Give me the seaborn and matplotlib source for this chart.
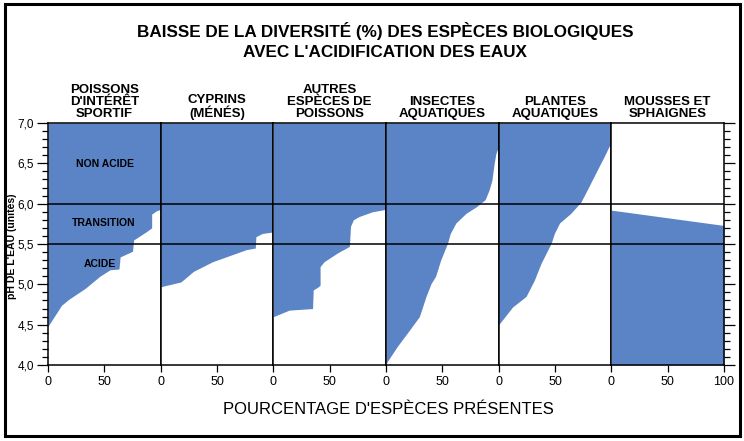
import matplotlib
matplotlib.use("Agg")
import matplotlib.pyplot as plt
import seaborn as sns
import numpy as np
from matplotlib.patches import Rectangle
from matplotlib.ticker import MultipleLocator, FuncFormatter

sns.set_theme(style="ticks")
plt.rcParams['font.family'] = ['Liberation Sans', 'DejaVu Sans']

BLEU = '#5b84c6'

# groupes d'especes (titres des panneaux)
groupes = ["POISSONS\nD'INTÉRÊT\nSPORTIF", "CYPRINS\n(MÉNÉS)",
           "AUTRES\nESPÈCES DE\nPOISSONS", "INSECTES\nAQUATIQUES",
           "PLANTES\nAQUATIQUES", "MOUSSES ET\nSPHAIGNES"]

# pH de l'eau -> % d'especes presentes
ph_sportif = [7.0, 5.93, 5.91, 5.87, 5.70, 5.65, 5.55, 5.41, 5.34, 5.19, 5.18, 5.10, 4.95, 4.81, 4.74, 4.48, 4.0]
pct_sportif = [100, 100, 96, 92, 92, 87, 76, 75, 64, 63, 55, 46, 33, 18, 12, 0, 0]

ph_cyprins = [7.0, 5.65, 5.63, 5.59, 5.45, 5.43, 5.28, 5.16, 5.03, 5.00, 4.97, 4.0]
pct_cyprins = [100, 100, 90, 84.5, 84, 76, 46, 29, 18, 9, 0, 0]

ph_autres = [7.0, 5.93, 5.90, 5.84, 5.80, 5.72, 5.47, 5.39, 5.28, 5.22, 4.99, 4.97, 4.93, 4.70, 4.68, 4.62, 4.60, 4.0]
pct_autres = [100, 100, 88, 76, 71, 68.5, 67.5, 57, 45, 41.5, 41.5, 40, 35.4, 34.8, 14, 3.6, 0, 0]

ph_insectes = [7.0, 6.71, 6.62, 6.50, 6.29, 6.17, 6.05, 5.96, 5.88, 5.76, 5.63, 5.51, 5.30, 5.10, 5.01, 4.85, 4.60, 4.43, 4.23, 4.04, 4.0]
pct_insectes = [100, 100, 97.5, 96, 94, 91.5, 88, 80, 71, 62, 57, 54.6, 48.5, 44, 40, 35.5, 29.6, 20.7, 10, 1, 0]

ph_plantes = [7.0, 6.73, 6.71, 6.58, 6.42, 6.21, 6.02, 5.88, 5.76, 5.63, 5.51, 5.26, 5.05, 4.85, 4.72, 4.50, 4.0]
pct_plantes = [100, 100, 98, 93.5, 87.6, 80, 73, 64, 54, 49.4, 46.6, 37.6, 31.6, 24.3, 12.4, 0, 0]

ph_mousses = [7.0, 5.92, 5.73, 4.0]
pct_mousses = [0, 0, 100, 100]

series = [(ph_sportif, pct_sportif), (ph_cyprins, pct_cyprins), (ph_autres, pct_autres),
          (ph_insectes, pct_insectes), (ph_plantes, pct_plantes), (ph_mousses, pct_mousses)]

zones = ["NON ACIDE", "TRANSITION", "ACIDE"]
zones_ph = [6.49, 5.76, 5.25]
zones_pct = [50.6, 49.7, 46]

fig, axes = plt.subplots(1, 6, sharey=True, figsize=(7.44, 4.41), dpi=100)
fig.subplots_adjust(left=48/744, right=724/744, bottom=1-365/441, top=1-123/441, wspace=0)

virgule = FuncFormatter(lambda v, p: f"{v:.1f}".replace('.', ','))

for i, (ax, titre, (ph, pct)) in enumerate(zip(axes, groupes, series)):
    ax.set_facecolor('white')
    ax.fill_betweenx(ph, 0, pct, color=BLEU, linewidth=0)
    ax.axhline(6.0, color='black', lw=1.1)
    ax.axhline(5.5, color='black', lw=1.1)
    ax.set_xlim(0, 100)
    ax.set_ylim(4, 7)
    ax.set_xticks([0, 50, 100] if i == 5 else [0, 50])
    for s in ax.spines.values():
        s.set_color('black')
        s.set_linewidth(1.1)
        s.set_visible(True)
    ax.tick_params(axis='x', direction='out', length=5, width=0.9, color='black',
                   labelsize=9, pad=3, labelcolor='black')
    ax.tick_params(axis='y', which='both', left=False, right=False, labelleft=False)
    ax.set_title(titre, fontsize=9.5, fontweight='bold', linespacing=1.0,
                 pad=4, color='black')

axes[0].yaxis.set_major_locator(MultipleLocator(0.5))
axes[0].yaxis.set_minor_locator(MultipleLocator(0.1))
axes[0].yaxis.set_major_formatter(virgule)
axes[0].tick_params(axis='y', which='major', left=True, labelleft=True, direction='out',
                    length=8, width=0.9, color='black', labelsize=8.5, pad=2, labelcolor='black')
axes[0].tick_params(axis='y', which='minor', left=True, direction='out',
                    length=4.5, width=0.9, color='black')
axes[5].tick_params(axis='y', which='major', right=True, labelright=False, direction='out',
                    length=8, width=0.9, color='black')
axes[5].tick_params(axis='y', which='minor', right=True, direction='out',
                    length=4.5, width=0.9, color='black')

for z, zp, zx in zip(zones, zones_ph, zones_pct):
    axes[0].text(zx, zp, z, ha='center', va='center', fontsize=7.5, fontweight='bold',
                 color='black')

fig.text(385/744, 1-41/441, "BAISSE DE LA DIVERSITÉ (%) DES ESPÈCES BIOLOGIQUES\nAVEC L'ACIDIFICATION DES EAUX",
         ha='center', va='center', fontsize=12.3, fontweight='bold',
         linespacing=1.35, color='black')
fig.text(388/744, 1-410/441, "POURCENTAGE D'ESPÈCES PRÉSENTES", ha='center', va='center',
         fontsize=12, color='black')
fig.text(12/744, 1-246/441, "pH DE L'EAU (unités)", rotation=90, ha='center', va='center',
         fontsize=7.5, fontweight='bold', color='black')

fig.patches.append(Rectangle((5/744, 5/441), 735/744, 432/441, transform=fig.transFigure,
                             fill=False, edgecolor='black', linewidth=2.2))

fig.savefig('out.png', dpi=100, facecolor='white')
